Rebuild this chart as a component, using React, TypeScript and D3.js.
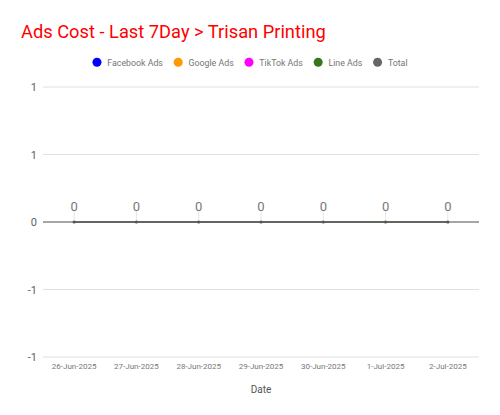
import React from "react";
import * as d3 from "d3";

const dates = ["26-Jun-2025", "27-Jun-2025", "28-Jun-2025", "29-Jun-2025", "30-Jun-2025", "1-Jul-2025", "2-Jul-2025"];
const seriesNames = ["Facebook Ads", "Google Ads", "TikTok Ads", "Line Ads", "Total"];
const seriesColors = ["#0000ff", "#ff9900", "#ff00ff", "#38761d", "#666666"];
const facebook = [0, 0, 0, 0, 0, 0, 0];
const google = [0, 0, 0, 0, 0, 0, 0];
const tiktok = [0, 0, 0, 0, 0, 0, 0];
const line = [0, 0, 0, 0, 0, 0, 0];
const total = [0, 0, 0, 0, 0, 0, 0];
const yTicks = [-1, -0.5, 0, 0.5, 1];

const W = 500, H = 415;
const font = "Roboto, sans-serif";
const legendFontSize = 8.8;

function measure(text: string, size: number): number {
  try {
    const c = document.createElement("canvas").getContext("2d");
    if (c) {
      c.font = `${size}px Roboto`;
      return c.measureText(text).width;
    }
  } catch (e) {}
  return text.length * size * 0.5;
}

export default function App() {
  const x = d3.scaleBand<string>().domain(dates).range([43, 479]).padding(0);
  const y = d3.scaleLinear().domain([-1, 1]).range([357, 87]);
  const cx = (d: string) => (x(d) ?? 0) + x.bandwidth() / 2;
  const allSeries = [facebook, google, tiktok, line, total];
  const lineGen = d3.line<number>().x((_, i) => cx(dates[i])).y((v) => y(v));
  const fmt = (v: number) => {
    const r = Math.round(v);
    return String(r === 0 ? 0 : r);
  };
  const fmtY = (v: number) => (v === 0 ? "0" : v > 0 ? "1" : "-1");

  // legend layout: circle r=4.5, circle->text 10.3, text->next circle center 15.3
  const textW = seriesNames.map((n) => measure(n, legendFontSize));
  const itemW = textW.map((w) => 4.5 + 10.3 + w);
  const gap = 15.3 - 4.5;
  const totalW = itemW.reduce((a, b) => a + b, 0) + gap * (itemW.length - 1);
  let lx = 250 - totalW / 2;
  const legendPos = itemW.map((w) => {
    const p = lx;
    lx += w + gap;
    return p;
  });

  return (
    <svg width={W} height={H} style={{ display: "block", position: "absolute", left: 0, top: 0 }}>
      <rect width={W} height={H} fill="#ffffff" />
      <text x={21} y={38} fontFamily={font} fontSize={18.3} fill="#ff0000">
        Ads Cost - Last 7Day &gt; Trisan Printing
      </text>
      {seriesNames.map((n, i) => (
        <g key={n} transform={`translate(${legendPos[i]},62.3)`}>
          <circle cx={4.5} cy={0} r={4.5} fill={seriesColors[i]} />
          <text x={14.8} y={3.2} fontFamily={font} fontSize={legendFontSize} fill="#757575">
            {n}
          </text>
        </g>
      ))}
      {yTicks.map((t) => (
        <g key={t}>
          {t !== 0 && <line x1={43} x2={479} y1={y(t)} y2={y(t)} stroke="#e0e0e0" strokeWidth={1} />}
          <text x={37} y={y(t) + 4} textAnchor="end" fontFamily={font} fontSize={11} fill="#5f5f5f">
            {fmtY(t)}
          </text>
        </g>
      ))}
      {total.map((v, i) => (
        <line key={"s" + i} x1={cx(dates[i])} x2={cx(dates[i])} y1={y(v) - 12} y2={y(v)} stroke="#e6e6e6" strokeWidth={1} />
      ))}
      <line x1={43} x2={479} y1={y(0)} y2={y(0)} stroke="#888" strokeWidth={1.3} />
      {allSeries.map((s, si) => (
        <path key={si} d={lineGen(s) ?? ""} fill="none" stroke={seriesColors[si]} strokeWidth={2} strokeOpacity={si === 4 ? 0.92 : 1} />
      ))}
      {total.map((v, i) => (
        <circle key={"p" + i} cx={cx(dates[i])} cy={y(v)} r={1.6} fill="#555" />
      ))}
      {total.map((v, i) => (
        <text key={"l" + i} x={cx(dates[i])} y={y(v) - 11} textAnchor="middle" fontFamily={font} fontSize={13} fill="#777">
          {fmt(v)}
        </text>
      ))}
      {dates.map((d) => (
        <text key={d} x={cx(d)} y={369} textAnchor="middle" fontFamily={font} fontSize={8} fill="#777">
          {d}
        </text>
      ))}
      <text x={261} y={393} textAnchor="middle" fontFamily={font} fontSize={10} fill="#555">
        Date
      </text>
    </svg>
  );
}
